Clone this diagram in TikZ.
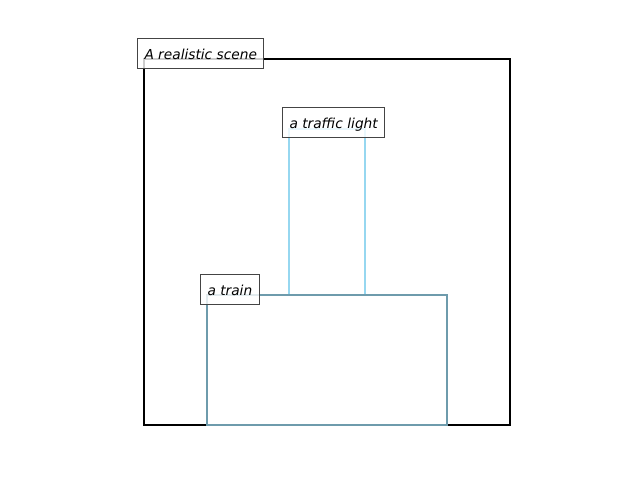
\documentclass[tikz,border=0pt]{standalone}
\usepackage{fontspec}
\setmainfont{DejaVu Sans}
\usepackage{tikz}
\usetikzlibrary{calc}
\definecolor{lightblue}{RGB}{150, 215, 240}
\definecolor{trainblue}{RGB}{110, 155, 172}
\definecolor{boxgray}{RGB}{68, 68, 68}

\begin{document}
\begin{tikzpicture}[x=0.75pt,y=-0.75pt]

\tikzstyle{region} = [line width=1.7pt, line join=miter]
\tikzstyle{tag} = [draw=boxgray, line width=0.75pt, fill=white, fill opacity=0.8, text opacity=1,
font=\itshape\fontsize{10.3}{12}\selectfont, anchor=base west, inner sep=5.25pt,
text height=10.3pt, text depth=1.5pt, xshift=-5.25pt]

\useasboundingbox (0,0) rectangle (640,480);

% the scene and the two objects
\draw[region, draw=black] (144,59) rectangle (510,425);
\draw[region, draw=lightblue] (289,129) rectangle (365,295);
\draw[region, draw=trainblue] (207,295) rectangle (447,425);

% labels
\node [tag] (scene) at (144,59) {A realistic scene};
\node [tag] (light) at (289,128) {a traffic light};
\node [tag] (train) at (207,295) {a train};

\end{tikzpicture}
\end{document}
